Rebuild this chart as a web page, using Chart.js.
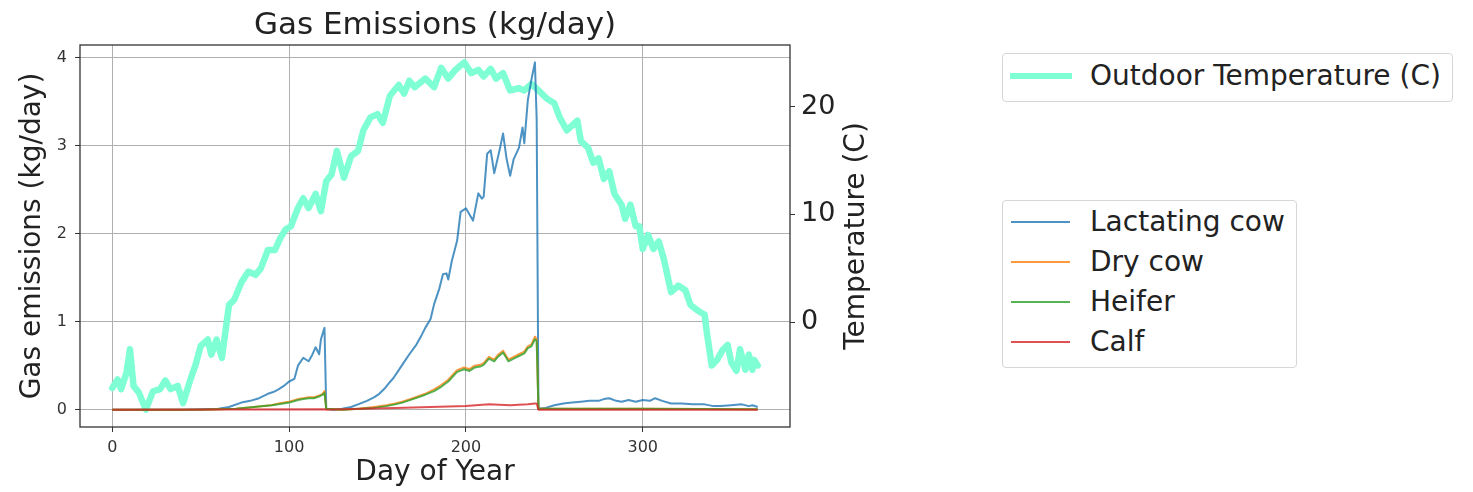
<!DOCTYPE html>
<html>
<head>
<meta charset="utf-8">
<script src="https://cdn.jsdelivr.net/npm/chart.js@4"></script>
<style>
  body { margin: 0; background: #fff; font-family: "DejaVu Sans", sans-serif; color: #222; }
  #wrap { position: relative; width: 1473px; height: 492px; }
  #plot { position: absolute; left: 0; top: 0; width: 900px; height: 492px; }
  .box { position: absolute; border: 1px solid #d6d6d6; border-radius: 4px; box-sizing: border-box; }
  .sw { position: absolute; }
  .lbl { position: absolute; font-size: 28px; line-height: 32px; height: 32px; white-space: nowrap; }
</style>
</head>
<body>
<div id="wrap">
  <div id="plot"><canvas id="myChart"></canvas></div>

  <div class="box" style="left:1002px;top:53px;width:451px;height:49px;"></div>
  <div class="sw" style="left:1010px;top:73px;width:62px;height:6px;background:#7fffd4;"></div>
  <div class="lbl" style="left:1090px;top:60px;">Outdoor Temperature (C)</div>

  <div class="box" style="left:1002px;top:200px;width:295px;height:168px;"></div>
  <div class="sw" style="left:1011px;top:221px;width:59px;height:2px;background:rgba(31,119,180,0.8);"></div>
  <div class="lbl" style="left:1090px;top:206px;">Lactating cow</div>
  <div class="sw" style="left:1011px;top:261px;width:59px;height:2px;background:rgba(255,127,14,0.8);"></div>
  <div class="lbl" style="left:1090px;top:246px;">Dry cow</div>
  <div class="sw" style="left:1011px;top:301px;width:59px;height:2px;background:rgba(44,160,44,0.8);"></div>
  <div class="lbl" style="left:1090px;top:286px;">Heifer</div>
  <div class="sw" style="left:1011px;top:341px;width:59px;height:2px;background:rgba(214,39,40,0.8);"></div>
  <div class="lbl" style="left:1090px;top:326px;">Calf</div>
</div>

<script>
const tempDays = [0, 3, 5, 8, 10, 12, 15, 19, 23, 27, 30, 33, 37, 40, 44, 47, 50, 54, 56, 59, 62, 66, 69, 73, 77, 81, 84, 88, 92, 95, 98, 101, 105, 108, 111, 115, 118, 121, 124, 127, 131, 135, 139, 142, 146, 150, 153, 157, 162, 165, 168, 171, 177, 182, 186, 190, 194, 199, 203, 207, 210, 214, 217, 221, 225, 230, 233, 237, 241, 246, 250, 253, 257, 263, 265, 269, 272, 275, 278, 281, 284, 288, 290, 293, 296, 298, 300, 303, 306, 309, 312, 316, 320, 324, 327, 331, 335, 336, 339, 342, 345, 348, 350, 353, 355, 358, 360, 362, 363, 365];
const tempC = [-6.1, -5.3, -6.2, -4.7, -2.5, -5.9, -6.5, -8.1, -6.4, -6.2, -5.4, -6.2, -5.9, -7.5, -5.4, -4.0, -2.2, -1.6, -3.0, -1.6, -3.3, 1.6, 2.1, 3.7, 4.7, 4.4, 5.0, 6.7, 6.7, 7.8, 8.6, 8.9, 10.6, 11.5, 10.6, 11.9, 10.3, 13.1, 13.7, 15.9, 13.4, 15.4, 15.9, 17.8, 19.0, 19.3, 18.5, 21.0, 22.0, 21.2, 22.4, 21.8, 22.6, 21.8, 23.6, 22.6, 23.4, 24.1, 23.1, 23.4, 22.8, 23.5, 22.6, 23.1, 21.5, 21.7, 21.5, 22.1, 21.5, 20.7, 20.3, 19.0, 17.8, 18.7, 16.8, 16.2, 14.8, 15.2, 13.3, 14.0, 11.9, 10.9, 9.6, 10.9, 8.9, 8.9, 6.8, 8.1, 6.8, 7.5, 5.8, 2.8, 3.4, 3.0, 1.6, 1.1, 0.7, -0.7, -4.0, -3.5, -2.6, -2.1, -3.7, -4.5, -2.5, -4.4, -3.0, -4.4, -3.5, -4.0];

const lactDays = [0, 20, 40, 50, 60, 66, 73, 78, 83, 88, 91, 94, 97, 100, 103, 105, 108, 111, 113, 115, 117, 118, 120, 121, 125, 130, 135, 139, 144, 148, 151, 154, 156, 159, 162, 165, 168, 172, 175, 177, 180, 182, 185, 187, 189, 190, 192, 195, 197, 200, 202, 204, 207, 209, 210, 212, 214, 216, 219, 221, 223, 225, 227, 230, 232, 233, 235, 237, 239, 240, 241, 245, 250, 255, 260, 265, 270, 275, 278, 281, 285, 288, 292, 296, 300, 304, 307, 311, 316, 322, 328, 335, 340, 344, 350, 356, 360, 362, 365];
const lactKg = [0, 0, 0, 0.005, 0.01, 0.03, 0.08, 0.1, 0.13, 0.18, 0.2, 0.23, 0.27, 0.32, 0.35, 0.5, 0.59, 0.55, 0.62, 0.71, 0.63, 0.8, 0.93, 0.01, 0, 0.01, 0.03, 0.06, 0.1, 0.14, 0.18, 0.24, 0.29, 0.36, 0.45, 0.54, 0.63, 0.74, 0.85, 0.93, 1.03, 1.2, 1.38, 1.54, 1.55, 1.48, 1.69, 1.92, 2.25, 2.29, 2.22, 2.15, 2.46, 2.4, 2.42, 2.91, 2.95, 2.69, 2.95, 3.14, 2.85, 2.66, 2.85, 2.98, 3.21, 3.03, 3.52, 3.75, 3.95, 3.3, 0.01, 0.02, 0.05, 0.07, 0.08, 0.09, 0.1, 0.1, 0.12, 0.13, 0.1, 0.09, 0.11, 0.09, 0.11, 0.1, 0.13, 0.1, 0.07, 0.07, 0.06, 0.06, 0.04, 0.04, 0.05, 0.06, 0.04, 0.05, 0.03];

const dryDays = [0, 50, 60, 70, 80, 90, 94, 100, 105, 108, 111, 114, 117, 119, 120, 121, 130, 140, 148, 155, 160, 164, 170, 177, 182, 186, 190, 195, 199, 202, 205, 208, 210, 213, 216, 218, 221, 224, 227, 230, 233, 235, 237, 239, 240, 241, 300, 365];
const dryKg = [0, 0, 0.005, 0.01, 0.03, 0.05, 0.07, 0.09, 0.12, 0.13, 0.14, 0.14, 0.16, 0.18, 0.21, 0.01, 0, 0.01, 0.03, 0.05, 0.07, 0.09, 0.13, 0.18, 0.23, 0.28, 0.34, 0.45, 0.48, 0.46, 0.5, 0.51, 0.53, 0.6, 0.57, 0.62, 0.67, 0.57, 0.6, 0.63, 0.66, 0.72, 0.74, 0.83, 0.8, 0.01, 0.01, 0.005];

const heiferDays = [0, 50, 60, 70, 80, 90, 94, 100, 105, 108, 111, 114, 117, 119, 120, 121, 130, 140, 148, 155, 160, 164, 170, 177, 182, 186, 190, 195, 199, 202, 205, 208, 210, 213, 216, 218, 221, 224, 227, 230, 233, 235, 237, 239, 240, 241, 300, 365];
const heiferKg = [0, 0, 0.005, 0.01, 0.03, 0.05, 0.06, 0.08, 0.11, 0.12, 0.13, 0.13, 0.15, 0.17, 0.19, 0.01, 0, 0.01, 0.02, 0.04, 0.06, 0.08, 0.12, 0.17, 0.21, 0.26, 0.32, 0.43, 0.46, 0.44, 0.48, 0.49, 0.51, 0.58, 0.55, 0.6, 0.65, 0.55, 0.58, 0.61, 0.64, 0.7, 0.72, 0.8, 0.78, 0.01, 0.01, 0.005];

const calfDays = [0, 120, 121, 140, 160, 180, 200, 213, 225, 235, 239, 240, 241, 365];
const calfKg = [0, 0.005, 0, 0.01, 0.02, 0.03, 0.04, 0.06, 0.05, 0.06, 0.07, 0.07, 0, 0];

const xTicks = [0, 100, 200, 300];
const gasTicks = [0, 1, 2, 3, 4];
const tempTicks = [0, 10, 20];

function pts(days, vals) {
  return days.map((d, i) => ({ x: d, y: vals[i] }));
}

// -- ** frame, title, right label ** -- \\
const extras = {
  id: 'extras',
  afterDatasetsDraw(chart) {
    const { ctx, chartArea: a } = chart;
    ctx.save();
    ctx.strokeStyle = '#333';
    ctx.lineWidth = 1.3;
    ctx.strokeRect(a.left, a.top, a.right - a.left, a.bottom - a.top);
    ctx.restore();
  },
  afterDraw(chart) {
    const { ctx, chartArea: a } = chart;
    ctx.save();
    ctx.fillStyle = '#222';
    ctx.textAlign = 'center';
    ctx.textBaseline = 'middle';
    ctx.font = '31px "DejaVu Sans"';
    ctx.fillText('Gas Emissions (kg/day)', (a.left + a.right) / 2, 26);
    ctx.font = '28px "DejaVu Sans"';
    ctx.translate(chart.scales.yT.left + 67, (a.top + a.bottom) / 2);
    ctx.rotate(-Math.PI / 2);
    ctx.fillText('Temperature (C)', 0, 0);
    ctx.restore();
  }
};

const lineDs = (label, data, color, order) => ({
  label: label, data: data, yAxisID: 'y', borderColor: color, backgroundColor: color,
  borderWidth: 2, borderJoinStyle: 'round', pointRadius: 0, tension: 0, fill: false, order: order
});

const config = {
  type: 'line',
  data: {
    datasets: [
      {
        label: 'Outdoor Temperature (C)', data: pts(tempDays, tempC), yAxisID: 'yT',
        borderColor: '#7fffd4', backgroundColor: '#7fffd4', borderWidth: 6.5,
        borderJoinStyle: 'round', borderCapStyle: 'round',
        pointRadius: 0, tension: 0, fill: false, order: 5
      },
      lineDs('Lactating cow', pts(lactDays, lactKg), 'rgba(31,119,180,0.8)', 4),
      lineDs('Dry cow', pts(dryDays, dryKg), 'rgba(255,127,14,0.8)', 3),
      lineDs('Heifer', pts(heiferDays, heiferKg), 'rgba(44,160,44,0.8)', 2),
      lineDs('Calf', pts(calfDays, calfKg), 'rgba(214,39,40,0.8)', 1)
    ]
  },
  options: {
    responsive: true,
    maintainAspectRatio: false,
    animation: false,
    layout: { padding: { left: 16, top: 45, right: 0, bottom: 2 } },
    plugins: { legend: { display: false }, tooltip: { enabled: false }, title: { display: false } },
    scales: {
      x: {
        type: 'linear', min: -18.25, max: 383.25,
        afterFit: (s) => { s.height = 63; },
        afterBuildTicks: (s) => { s.ticks = xTicks.map(v => ({ value: v })); },
        ticks: { font: { family: 'DejaVu Sans', size: 16 }, color: '#333', padding: 6, maxRotation: 0 },
        grid: { color: '#b0b0b0', lineWidth: 1, tickColor: '#333', tickLength: 5 },
        border: { display: false },
        title: { display: true, text: 'Day of Year', color: '#222', font: { family: 'DejaVu Sans', size: 28 }, padding: { top: 0, bottom: 0 } }
      },
      y: {
        position: 'left', min: -0.1975, max: 4.1475,
        afterFit: (s) => { s.width = 64; },
        afterBuildTicks: (s) => { s.ticks = gasTicks.map(v => ({ value: v })); },
        ticks: { font: { family: 'DejaVu Sans', size: 16 }, color: '#333', padding: 8 },
        grid: { color: '#b0b0b0', lineWidth: 1, tickColor: '#333', tickLength: 5 },
        border: { display: false },
        title: { display: true, text: 'Gas emissions (kg/day)', color: '#222', font: { family: 'DejaVu Sans', size: 28 }, padding: { top: 0, bottom: 0 } }
      },
      yT: {
        position: 'right', min: -9.71, max: 25.71,
        afterFit: (s) => { s.width = 110; },
        afterBuildTicks: (s) => { s.ticks = tempTicks.map(v => ({ value: v })); },
        ticks: { font: { family: 'DejaVu Sans', size: 27 }, color: '#222', padding: 6 },
        grid: { drawOnChartArea: false, tickColor: '#333', tickLength: 5 },
        border: { display: false }
      }
    }
  },
  plugins: [extras]
};

const myChart = new Chart(document.getElementById('myChart'), config);
</script>
</body>
</html>
